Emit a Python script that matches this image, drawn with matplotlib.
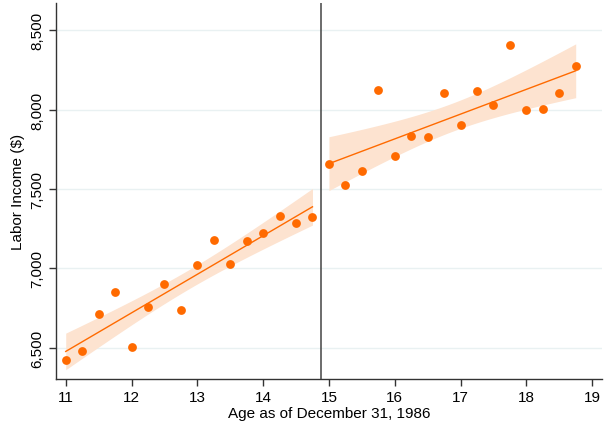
import numpy as np
import matplotlib
matplotlib.use("Agg")
import matplotlib.pyplot as plt
from matplotlib.ticker import FuncFormatter

plt.rcParams['font.family'] = ['Liberation Sans', 'DejaVu Sans']

# Data
age_left = [11.0, 11.25, 11.5, 11.75, 12.0, 12.25, 12.5, 12.75,
            13.0, 13.25, 13.5, 13.75, 14.0, 14.25, 14.5, 14.75]
income_left = [6423, 6477, 6710, 6854, 6502, 6754, 6900, 6737,
               7021, 7178, 7030, 7175, 7222, 7329, 7283, 7323]
age_right = [15.0, 15.25, 15.5, 15.75, 16.0, 16.25, 16.5, 16.75,
             17.0, 17.25, 17.5, 17.75, 18.0, 18.25, 18.5, 18.75]
income_right = [7655, 7525, 7613, 8124, 7707, 7837, 7829, 8107,
                7902, 8119, 8028, 8405, 8000, 8004, 8107, 8273]
cutoff = 14.875
xticks = [11, 12, 13, 14, 15, 16, 17, 18, 19]
yticks = [6500, 7000, 7500, 8000, 8500]

orange = '#ff6a00'
band = '#fde3d0'
grid = '#e9f1f2'

fig = plt.figure(figsize=(6.07, 4.27), dpi=100)
ax = fig.add_axes([0.0918, 0.110, 0.900, 0.880])

def fit_band(x, y):
    x = np.asarray(x, float); y = np.asarray(y, float)
    n = len(x)
    b, a = np.polyfit(x, y, 1)
    resid = y - (a + b * x)
    s = np.sqrt(np.sum(resid**2) / (n - 2))
    xm = x.mean(); sxx = np.sum((x - xm)**2)
    xs = np.linspace(x.min(), x.max(), 100)
    yhat = a + b * xs
    se = s * np.sqrt(1.0 / n + (xs - xm)**2 / sxx)
    t = 2.145  # t(0.975, 14)
    return xs, yhat, yhat - t * se, yhat + t * se

for xs_, ys_ in [(age_left, income_left), (age_right, income_right)]:
    xs, yhat, lo, hi = fit_band(xs_, ys_)
    ax.fill_between(xs, lo, hi, color=band, lw=0, zorder=1)
    ax.plot(xs, yhat, color=orange, lw=1.0, zorder=2)
    ax.scatter(xs_, ys_, s=40, color=orange, lw=0, zorder=3)

ax.axvline(cutoff, color='#444444', lw=1.1, zorder=4)

ax.set_xlim(10.848, 19.15)
ax.set_ylim(6303, 8670)
ax.set_xticks(xticks)
ax.set_yticks(yticks)
ax.yaxis.set_major_formatter(FuncFormatter(lambda v, p: f"{int(v):,}"))
ax.grid(axis='y', color=grid, lw=1.0, zorder=0)
ax.set_axisbelow(True)

for s in ['top', 'right']:
    ax.spines[s].set_visible(False)
for s in ['left', 'bottom']:
    ax.spines[s].set_color('#333333')
    ax.spines[s].set_linewidth(1.0)

ax.tick_params(axis='both', direction='out', length=5, width=1, color='#333333',
               labelsize=11, pad=3)
for lab in ax.get_yticklabels():
    lab.set_rotation(90)
    lab.set_va('center')

ax.set_xlabel('Age as of December 31, 1986', fontsize=11, labelpad=1)
ax.set_ylabel('Labor Income ($)', fontsize=11, labelpad=4)

fig.savefig('out.png', dpi=100)
